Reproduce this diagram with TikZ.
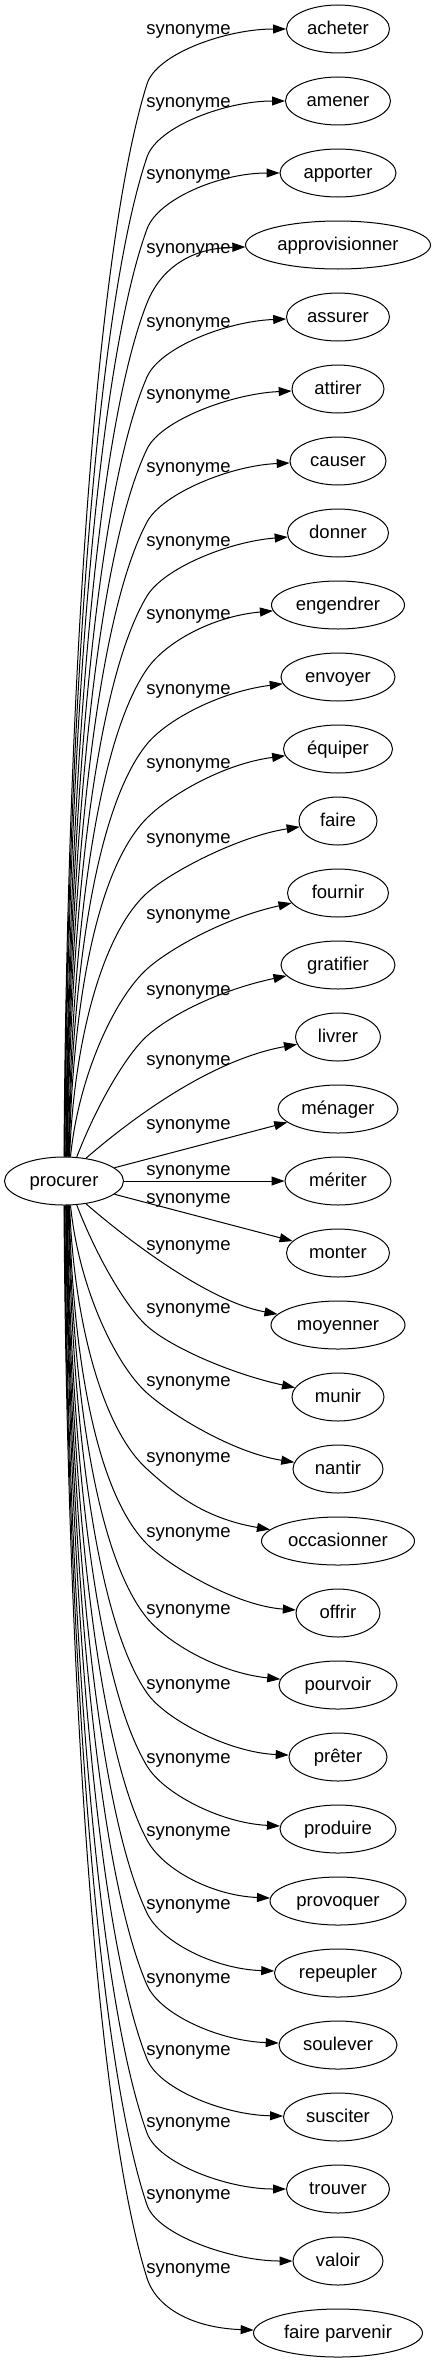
\documentclass[tikz,border=0pt]{standalone}
\usepackage{fontspec}
\setmainfont{Liberation Sans}
\usetikzlibrary{arrows.meta,shapes.geometric,calc}
\begin{document}
\begin{tikzpicture}[x=1pt,y=-1pt,
  every node/.style={font=\fontsize{18.5}{22}\selectfont, text height=13.5pt, text depth=2.3pt, inner sep=0pt},
  syn/.style={ellipse, draw, line width=1pt, minimum height=48pt},
  lab/.style={anchor=center},
  arr/.style={line width=1pt, -{Triangle[length=13pt,width=9pt]}}]
\useasboundingbox (0,0) rectangle (436,2363);
\node[syn, minimum width=119pt] (procurer) at (64,1181) {procurer};
\foreach \i/\t/\w in {0/acheter/103, 1/amener/105, 2/apporter/116, 3/approvisionner/185,
  4/assurer/103, 5/attirer/92, 6/causer/96, 7/donner/101, 8/engendrer/133, 9/envoyer/114,
  10/équiper/109, 11/faire/78, 12/fournir/101, 13/gratifier/114, 14/livrer/85,
  15/ménager/120, 16/mériter/106, 17/monter/103, 18/moyenner/134, 19/munir/92,
  20/nantir/90, 21/occasionner/153, 22/offrir/84, 23/pourvoir/118, 24/prêter/98,
  25/produire/116, 26/provoquer/136, 27/repeupler/127, 28/soulever/118, 29/susciter/109,
  30/trouver/103, 31/valoir/90, 32/faire parvenir/169}
  \node[syn, minimum width=\w pt] (n\i) at (338,{29+72*\i}) {\t};
\foreach \i/\ly in {0/29, 1/102, 2/174, 3/248, 4/322, 5/394, 6/467, 7/541, 8/614, 9/689,
  10/763, 11/838, 12/914, 13/990, 14/1060, 15/1124, 16/1170, 17/1198, 18/1245, 19/1308,
  20/1381, 21/1457, 22/1532, 23/1609, 24/1684, 25/1758, 26/1831, 27/1904, 28/1978,
  29/2050, 30/2122, 31/2194, 32/2268}
  \node[lab] (l\i) at (188.5,\ly) {synonyme};
% upper edges
\foreach \i/\by/\tha/\ax/\dl/\w in {0/84/90/3/0/103, 1/157/89/3/0/105, 2/229/88/3/0/116,
  3/303/86/3/3.3/185, 4/377/85/3/4.3/103, 5/449/84/3/4.6/92, 6/522/83/3/4.5/96,
  7/596/82/3/8.8/101, 8/669/80/3/11.4/133, 9/744/79/3/14.4/114, 10/818/78/3/14.7/109,
  11/893/77/4/15.2/78, 12/969/75/8/24/101, 13/1036/62/20/24.6/114}{
  \pgfmathsetmacro\D{1157-\by}
  \pgfmathsetmacro\ka{0.43*\D}
  \pgfmathsetmacro\hy{0.154*\D}
  \pgfmathsetmacro\hx{min(52,\hy/0.9)}
  \pgfmathsetmacro\ang{atan2(\hy,\hx)}
  \pgfmathsetmacro\cx{147+32*cos(\ang)}
  \pgfmathsetmacro\cy{\by-32*sin(\ang)}
  \pgfmathsetmacro\ex{338-\w/2-60}
  \pgfmathsetmacro\ey{29+72*\i+\dl}
  \pgfmathsetmacro\bx{147-\hx}
  \pgfmathsetmacro\bby{\by+\hy}
  \draw[arr] (procurer.\tha) .. controls ($(procurer.\tha)+(\ax,-\ka)$) and (\bx,\bby) .. (147,\by) .. controls (\cx,\cy) and (\ex,\ey) .. (n\i);
}
% lower edges
\foreach \i/\by/\tha/\ax/\dl/\w in {32/2278/-90/3/5.1/169, 31/2205/-89/3/0/90,
  30/2133/-88/3/0/103, 29/2059/-86/3/2.1/109, 28/1985/-85/3/4/118, 27/1913/-84/3/3.9/127,
  26/1840/-83/3/5.6/136, 25/1766/-82/3/6.1/116, 24/1693/-80/3/4.4/98, 23/1618/-79/3/12.1/118,
  22/1544/-78/3/7.3/84, 21/1469/-77/4/23/153, 20/1393/-75/8/16.3/90, 19/1326/-62/20/23/92}{
  \pgfmathsetmacro\D{\by-1205}
  \pgfmathsetmacro\ka{0.43*\D}
  \pgfmathsetmacro\hy{0.154*\D}
  \pgfmathsetmacro\hx{min(52,\hy/0.9)}
  \pgfmathsetmacro\ang{atan2(\hy,\hx)}
  \pgfmathsetmacro\cx{147+32*cos(\ang)}
  \pgfmathsetmacro\cy{\by+32*sin(\ang)}
  \pgfmathsetmacro\ex{338-\w/2-60}
  \pgfmathsetmacro\ey{29+72*\i-\dl}
  \pgfmathsetmacro\bx{147-\hx}
  \pgfmathsetmacro\bby{\by-\hy}
  \draw[arr] (procurer.\tha) .. controls ($(procurer.\tha)+(\ax,\ka)$) and (\bx,\bby) .. (147,\by) .. controls (\cx,\cy) and (\ex,\ey) .. (n\i);
}
% near edges
\draw[arr] (procurer.46) .. controls (130,1120) and (210,1060) .. (n14);
\draw[arr] (procurer.-46) .. controls (130,1242) and (210,1302) .. (n18);
\draw[arr] (procurer) -- (n15);
\draw[arr] (procurer) -- (n16);
\draw[arr] (procurer) -- (n17);
\end{tikzpicture}
\end{document}
